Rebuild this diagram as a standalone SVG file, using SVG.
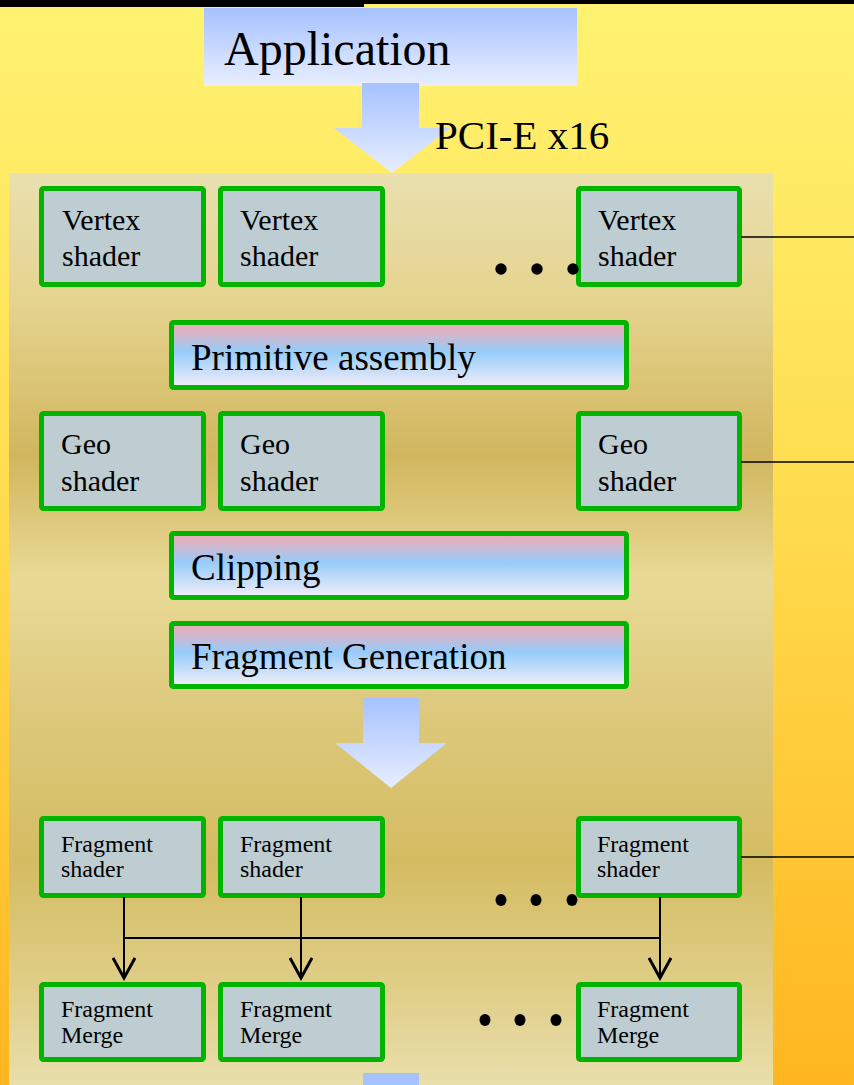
<svg xmlns="http://www.w3.org/2000/svg" width="854" height="1085" viewBox="0 0 854 1085">
<defs>
<linearGradient id="bg" x1="0" y1="0" x2="0" y2="1">
<stop offset="0" stop-color="#FFF372"/>
<stop offset="0.5" stop-color="#FFDA4C"/>
<stop offset="1" stop-color="#FFB620"/>
</linearGradient>
<linearGradient id="panel" x1="0" y1="0" x2="0" y2="1">
<stop offset="0" stop-color="#E9E0B0"/>
<stop offset="0.14" stop-color="#E5D48F"/>
<stop offset="0.31" stop-color="#D1B65E"/>
<stop offset="0.446" stop-color="#E8DA96"/>
<stop offset="0.58" stop-color="#DECA7E"/>
<stop offset="0.755" stop-color="#D4BC62"/>
<stop offset="0.907" stop-color="#E1D08C"/>
<stop offset="1" stop-color="#E9DFAC"/>
</linearGradient>
<linearGradient id="blue" x1="0" y1="0" x2="0" y2="1">
<stop offset="0" stop-color="#A6C2FF"/>
<stop offset="1" stop-color="#E8EEFF"/>
</linearGradient>
<linearGradient id="stage" x1="0" y1="0" x2="0" y2="1">
<stop offset="0" stop-color="#E6AEBE"/>
<stop offset="0.12" stop-color="#E0B2C2"/>
<stop offset="0.45" stop-color="#96CCFA"/>
<stop offset="1" stop-color="#F4EEF8"/>
</linearGradient>
<marker id="vee" viewBox="0 0 24 24" refX="21" refY="12" markerWidth="24" markerHeight="24" markerUnits="userSpaceOnUse" orient="auto">
<path d="M1,1 L21,12 L1,23" fill="none" stroke="#000" stroke-width="3"/>
</marker>
</defs>
<style>
.box{fill:#BECDD2;stroke:#00B400;stroke-width:5}
.wide{fill:url(#stage);stroke:#00B400;stroke-width:5}
.t{font-family:"Liberation Serif","Times New Roman",serif;fill:#000}
.m{font-size:30px}
.s{font-size:24px}
.w{font-size:37px}
.ln{stroke:#000;stroke-width:2;fill:none}
.side{stroke:#000;stroke-width:1.6;fill:none}
</style>
<rect x="0" y="0" width="854" height="1085" fill="url(#bg)"/>
<rect x="0" y="0" width="364" height="7" fill="#000"/>
<rect x="364" y="0" width="490" height="4" fill="#000"/>
<rect id="panel-bg" x="9" y="173" width="764" height="912" fill="url(#panel)"/>

<g id="application">
<rect x="204" y="8" width="373" height="78" fill="url(#blue)"/>
<text class="t" x="224" y="65" font-size="48">Application</text>
</g>
<g id="arrow-pci">
<path d="M362,83 H419 V128 H450 L392,173 L334,128 H362 Z" fill="url(#blue)"/>
<text class="t" x="435" y="149" font-size="41">PCI-E x16</text>
</g>

<g id="vertex1"><rect class="box" x="41.5" y="188.5" width="162" height="96" rx="2"/><text class="t m" x="62" y="230">Vertex</text><text class="t m" x="62" y="266">shader</text></g>
<g id="vertex2"><rect class="box" x="220.5" y="188.5" width="162" height="96" rx="2"/><text class="t m" x="240" y="230">Vertex</text><text class="t m" x="240" y="266">shader</text></g>
<g id="vertex3"><rect class="box" x="578.5" y="188.5" width="161" height="96" rx="2"/><text class="t m" x="598" y="230">Vertex</text><text class="t m" x="598" y="266">shader</text></g>
<g id="vertex-dots"><circle cx="501" cy="269" r="5.7"/><circle cx="537" cy="269" r="5.7"/><circle cx="573" cy="269" r="5.7"/></g>

<g id="primitive-assembly"><rect class="wide" x="171.5" y="322.5" width="455" height="65" rx="2"/><text class="t w" x="191" y="370">Primitive assembly</text></g>

<g id="geo1"><rect class="box" x="41.5" y="413.5" width="162" height="95" rx="2"/><text class="t m" x="61" y="454">Geo</text><text class="t m" x="61" y="491">shader</text></g>
<g id="geo2"><rect class="box" x="220.5" y="413.5" width="162" height="95" rx="2"/><text class="t m" x="240" y="454">Geo</text><text class="t m" x="240" y="491">shader</text></g>
<g id="geo3"><rect class="box" x="578.5" y="413.5" width="161" height="95" rx="2"/><text class="t m" x="598" y="454">Geo</text><text class="t m" x="598" y="491">shader</text></g>

<g id="clipping"><rect class="wide" x="171.5" y="533.5" width="455" height="64" rx="2"/><text class="t w" x="191" y="580">Clipping</text></g>
<g id="fragment-generation"><rect class="wide" x="171.5" y="623.5" width="455" height="63" rx="2"/><text class="t w" x="191" y="669">Fragment Generation</text></g>

<g id="arrow-down"><path d="M363,698 H419 V743 H447 L391,788 L335,743 H363 Z" fill="url(#blue)"/></g>

<g id="fshader1"><rect class="box" x="41.5" y="818.5" width="162" height="77" rx="2"/><text class="t s" x="61" y="852">Fragment</text><text class="t s" x="61" y="877">shader</text></g>
<g id="fshader2"><rect class="box" x="220.5" y="818.5" width="162" height="77" rx="2"/><text class="t s" x="240" y="852">Fragment</text><text class="t s" x="240" y="877">shader</text></g>
<g id="fshader3"><rect class="box" x="578.5" y="818.5" width="161" height="77" rx="2"/><text class="t s" x="597" y="852">Fragment</text><text class="t s" x="597" y="877">shader</text></g>
<g id="fshader-dots"><ellipse cx="501" cy="900" rx="5.5" ry="6"/><ellipse cx="536" cy="900" rx="5.5" ry="6"/><ellipse cx="572" cy="900" rx="5.5" ry="6"/></g>

<g id="fmerge1"><rect class="box" x="41.5" y="984.5" width="162" height="75" rx="2"/><text class="t s" x="61" y="1017">Fragment</text><text class="t s" x="61" y="1043">Merge</text></g>
<g id="fmerge2"><rect class="box" x="220.5" y="984.5" width="162" height="75" rx="2"/><text class="t s" x="240" y="1017">Fragment</text><text class="t s" x="240" y="1043">Merge</text></g>
<g id="fmerge3"><rect class="box" x="578.5" y="984.5" width="161" height="75" rx="2"/><text class="t s" x="597" y="1017">Fragment</text><text class="t s" x="597" y="1043">Merge</text></g>
<g id="fmerge-dots"><ellipse cx="485" cy="1020" rx="5.5" ry="6"/><ellipse cx="520" cy="1020" rx="5.5" ry="6"/><ellipse cx="556" cy="1020" rx="5.5" ry="6"/></g>

<g id="arrow-bottom"><rect x="363" y="1073" width="56" height="12" fill="#A6C2FF"/></g>

<g id="connectors">
<line class="side" x1="741" y1="237" x2="854" y2="237"/>
<line class="side" x1="741" y1="462" x2="854" y2="462"/>
<line class="side" x1="741" y1="857" x2="854" y2="857"/>
<line class="ln" x1="124" y1="938" x2="660" y2="938"/>
<line class="ln" x1="124" y1="897" x2="124" y2="978" marker-end="url(#vee)"/>
<line class="ln" x1="301" y1="897" x2="301" y2="978" marker-end="url(#vee)"/>
<line class="ln" x1="660" y1="897" x2="660" y2="978" marker-end="url(#vee)"/>
</g>
</svg>
